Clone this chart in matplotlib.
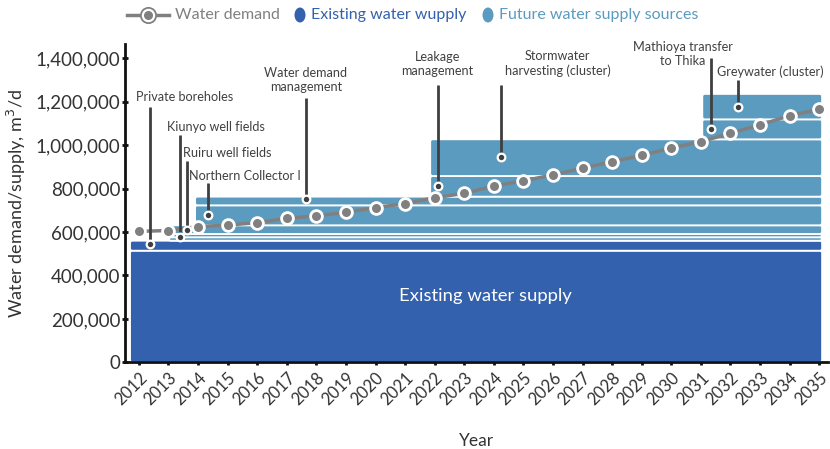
import matplotlib
matplotlib.use("Agg")
import matplotlib.pyplot as plt
import matplotlib.transforms as mtrans
from matplotlib.patches import FancyBboxPatch, Ellipse
from matplotlib.lines import Line2D
from matplotlib.ticker import FuncFormatter

plt.rcParams['font.family'] = ['Lato', 'DejaVu Sans']

# ---------------- data ----------------
years = list(range(2012, 2036))
demand = [603000, 607000, 625000, 632000, 643000, 663000, 674000, 691000, 712000, 731000,
          758000, 778000, 812000, 836000, 863000, 894000, 924000, 953000, 987000, 1016000,
          1055000, 1093000, 1136000, 1165000]

# supply bands: start year, end year, low, high, kind
band_start = [2011.7, 2011.7, 2013.0, 2013.0, 2013.0, 2013.9, 2013.9, 2021.85, 2021.85, 2031.05, 2031.05]
band_end   = [2035.1] * 11
band_low   = [0, 514000, 560000, 576000, 591000, 631000, 723000, 763000, 858000, 1027000, 1119000]
band_high  = [514000, 560000, 576000, 591000, 631000, 723000, 763000, 858000, 1027000, 1119000, 1236000]
band_kind  = ['existing', 'existing', 'future', 'future', 'future', 'future', 'future',
              'future', 'future', 'future', 'future']

# annotations: label, pointer (year, value), pointer line top, text position
ann_labels = ['Private boreholes', 'Kiunyo well fields', 'Ruiru well fields', 'Northern Collector I',
              'Water demand\nmanagement', 'Leakage\nmanagement', 'Stormwater\nharvesting (cluster)',
              'Mathioya transfer\nto Thika', 'Greywater (cluster)']
ann_x = [2012.37, 2013.38, 2013.63, 2014.33, 2017.65, 2022.1, 2024.25, 2031.35, 2032.25]
ann_y = [545000, 579000, 609000, 678000, 750000, 812000, 946000, 1076000, 1176000]
ann_line_top = [1175000, 1045000, 925000, 825000, 1217000, 1277000, 1277000, 1400000, 1300000]
ann_text_x = [2011.9, 2012.95, 2013.5, 2013.7, 2017.65, 2022.1, 2026.15, 2030.4, 2031.55]
ann_text_y = [1222000, 1083000, 963000, 857000, 1300000, 1375000, 1375000, 1420000, 1336000]
ann_ha = ['left', 'left', 'left', 'left', 'center', 'center', 'center', 'center', 'left']

legend_labels = ['Water demand', 'Existing water wupply', 'Future water supply sources']

DARK = '#3461ad'
LIGHT = '#5b9bbf'
GRAY = '#808080'
PTR = '#3f3f3f'
W, H = 830, 449

fig = plt.figure(figsize=(8.3, 4.49), dpi=100)
ax = fig.add_axes([125/W, 1 - 362.3/H, (828-125)/W, (362.3-44)/H])
ax.set_xlim(2011.53, 2035.3)
ax.set_ylim(0, 1466000)

x_per_px = (2035.3 - 2011.53) / (828-125)
y_per_px = 1466000 / (362.3-44)
asp = y_per_px / x_per_px

for s, e, lo, hi, k in zip(band_start, band_end, band_low, band_high, band_kind):
    col = DARK if k == 'existing' else LIGHT
    p = FancyBboxPatch((s, lo), e - s, hi - lo,
                       boxstyle="round,pad=0,rounding_size=0.08",
                       mutation_aspect=asp, facecolor=col, edgecolor='white',
                       linewidth=1.3, zorder=2)
    ax.add_patch(p)

ax.text(2023.7, 305000, 'Existing water supply',
        color='white', ha='center', va='center', fontsize=13.3, zorder=3)

# demand line
ax.plot(years, demand, color=GRAY, lw=2.5, marker='o', markersize=8.5,
        markerfacecolor=GRAY, markeredgecolor='white', markeredgewidth=2, zorder=5,
        clip_on=False)

# annotations
for lab, x, y, top, tx, ty, ha in zip(ann_labels, ann_x, ann_y, ann_line_top, ann_text_x, ann_text_y, ann_ha):
    ax.plot([x, x], [y, top], color=PTR, lw=2, zorder=6, solid_capstyle='butt')
    ax.plot([x], [y], marker='o', markersize=5.5, markerfacecolor=PTR,
            markeredgecolor='white', markeredgewidth=1.6, zorder=7, lw=0)
    ax.text(tx, ty, lab, ha=ha, va='center', fontsize=9.1, color='#404040',
            linespacing=1.25, zorder=8)

# axes styling
for sp in ['top', 'right']:
    ax.spines[sp].set_visible(False)
for sp in ['left', 'bottom']:
    ax.spines[sp].set_linewidth(2)
    ax.spines[sp].set_color('#111111')
ax.set_yticks(range(0, 1400001, 200000))
ax.yaxis.set_major_formatter(FuncFormatter(lambda v, p: f'{int(v):,}'))
ax.set_xticks(years)
ax.set_xticklabels([str(y) for y in years], rotation=45, ha='right', rotation_mode='anchor')
off = mtrans.ScaledTranslation(9/100, 0, fig.dpi_scale_trans)
for lab in ax.get_xticklabels():
    lab.set_transform(lab.get_transform() + off)
ax.tick_params(axis='both', direction='inout', length=5, width=2, color='#111111',
               labelcolor='#333333')
ax.tick_params(axis='y', labelsize=13.5, pad=1)
ax.tick_params(axis='x', labelsize=12, pad=3)
ax.set_ylabel('Water demand/supply, m$^3$/d', fontsize=13, color='#333333', labelpad=5)
ax.set_xlabel('Year', fontsize=12.5, color='#333333', labelpad=18)

# legend (drawn manually in figure pixel coordinates)
def fx(px):
    return px / W
def fy(py):
    return 1 - py / H
ly = 15
fig.add_artist(Line2D([fx(127), fx(169)], [fy(ly), fy(ly)], color=GRAY, lw=2.5))
fig.add_artist(Line2D([fx(148)], [fy(ly)], marker='o', markersize=11, markerfacecolor='white',
                      markeredgecolor=GRAY, markeredgewidth=1.3, lw=0))
fig.add_artist(Line2D([fx(148)], [fy(ly)], marker='o', markersize=6.5, markerfacecolor=GRAY,
                      markeredgecolor='none', lw=0))
fig.text(fx(175), fy(ly), legend_labels[0], color=GRAY, fontsize=11.5, va='center', ha='left')
fig.add_artist(Ellipse((fx(300), fy(ly)), 11/W, 15/H, facecolor=DARK, edgecolor='none',
                       transform=fig.transFigure))
fig.text(fx(311), fy(ly), legend_labels[1], color=DARK, fontsize=11.5, va='center', ha='left')
fig.add_artist(Ellipse((fx(488), fy(ly)), 11/W, 15/H, facecolor=LIGHT, edgecolor='none',
                       transform=fig.transFigure))
fig.text(fx(499), fy(ly), legend_labels[2], color=LIGHT, fontsize=11.5, va='center', ha='left')

fig.savefig('out.png', dpi=100)
